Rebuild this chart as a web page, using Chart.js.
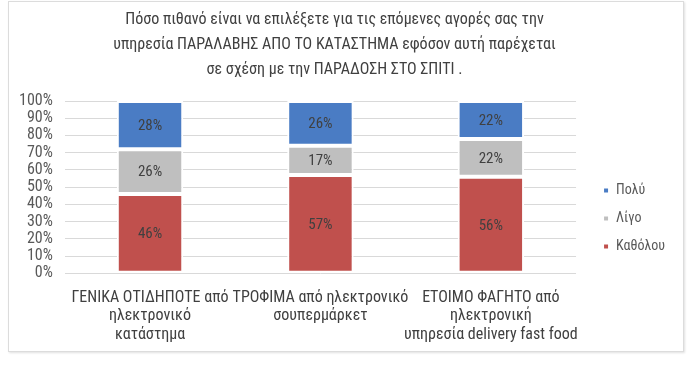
<!DOCTYPE html>
<html>
<head>
<meta charset="utf-8">
<script src="https://cdn.jsdelivr.net/npm/chart.js@4"></script>
<style>
  html, body { margin: 0; padding: 0; background: #fff; }
  #box {
    position: absolute; left: 8px; top: 1px;
    width: 674px; height: 349px;
    border: 1px solid #dcdcdc;
    box-shadow: 1px 1px 2px rgba(0,0,0,0.12);
  }
  canvas { display: block; }
</style>
</head>
<body>
<div id="box"><canvas id="chart" width="674" height="349"></canvas></div>
<script>
// chart data
const categories = [
    ["ΓΕΝΙΚΑ ΟΤΙΔΗΠΟΤΕ από", "ηλεκτρονικό", "κατάστημα"],
    ["ΤΡΟΦΙΜΑ από ηλεκτρονικό", "σουπερμάρκετ"],
    ["ΕΤΟΙΜΟ ΦΑΓΗΤΟ από", "ηλεκτρονική", "υπηρεσία delivery fast food"]
];
const katholou = [46, 57, 56];
const ligo = [26, 17, 22];
const poly = [28, 26, 22];
const seriesNames = ["Καθόλου", "Λίγο", "Πολύ"];
const titleLines = [
    "Πόσο πιθανό είναι να επιλέξετε για τις επόμενες αγορές σας την",
    "υπηρεσία ΠΑΡΑΛΑΒΗΣ ΑΠΟ ΤΟ ΚΑΤΑΣΤΗΜΑ εφόσον αυτή παρέχεται",
    "σε σχέση με την ΠΑΡΑΔΟΣΗ ΣΤΟ ΣΠΙΤΙ ."
];

const FONT = "'Liberation Sans Narrow', 'Roboto Condensed', Roboto, sans-serif";

// writes the % inside each segment
const valueLabels = {
    id: 'valueLabels',
    afterDatasetsDraw(chart) {
        const ctx = chart.ctx;
        ctx.save();
        ctx.font = "15px " + FONT;
        ctx.fillStyle = '#404040';
        ctx.textAlign = 'center';
        ctx.textBaseline = 'middle';
        chart.data.datasets.forEach((ds, i) => {
            chart.getDatasetMeta(i).data.forEach((bar, j) => {
                const mid = (bar.y + bar.base) / 2;
                ctx.fillText(ds.data[j] + '%', bar.x, mid + 1);
            });
        });
        ctx.restore();
    }
};

// legend sits a bit lower and further right than chart.js puts it
const legendNudge = {
    id: 'legendNudge',
    afterLayout(chart) {
        const lg = chart.legend;
        lg.left += 13; lg.right += 13;
        lg.top += 42; lg.bottom += 42;
    }
};

const mk = (label, data, color) => ({
    label: label,
    data: data,
    backgroundColor: color,
    borderColor: '#ffffff',
    borderWidth: 2,
    borderSkipped: false,
    barPercentage: 0.39,
    categoryPercentage: 1.0
});

window.mainChart = new Chart(document.getElementById("chart"), {
    type: 'bar',
    data: {
        labels: categories,
        datasets: [
            mk(seriesNames[0], katholou, '#c0504d'),
            mk(seriesNames[1], ligo, '#bfbfbf'),
            mk(seriesNames[2], poly, '#4a7cc4')
        ]
    },
    options: {
        responsive: false,
        animation: false,
        layout: { padding: { left: -2, right: 21, bottom: 0, top: 0 } },
        plugins: {
            title: {
                display: true,
                text: titleLines,
                color: '#404040',
                font: { family: FONT, size: 16, weight: 'normal', lineHeight: 1.5625 },
                padding: { top: 5, bottom: 19 }
            },
            legend: {
                position: 'right',
                align: 'center',
                reverse: true,
                labels: {
                    boxWidth: 6,
                    boxHeight: 6,
                    padding: 14,
                    color: '#595959',
                    font: { family: FONT, size: 14 }
                }
            },
            tooltip: { enabled: false }
        },
        scales: {
            x: {
                stacked: true,
                grid: { display: false },
                border: { display: false },
                ticks: {
                    color: '#404040',
                    font: { family: FONT, size: 16, lineHeight: 1.16 },
                    maxRotation: 0,
                    autoSkip: false,
                    padding: 7
                }
            },
            y: {
                stacked: true,
                min: 0,
                max: 100,
                grid: { color: '#d9d9d9', drawTicks: false },
                border: { display: false },
                ticks: {
                    stepSize: 10,
                    autoSkip: false,
                    padding: 12,
                    color: '#595959',
                    font: { family: FONT, size: 16 },
                    callback: v => v + '%'
                }
            }
        }
    },
    plugins: [valueLabels, legendNudge]
});
</script>
</body>
</html>
